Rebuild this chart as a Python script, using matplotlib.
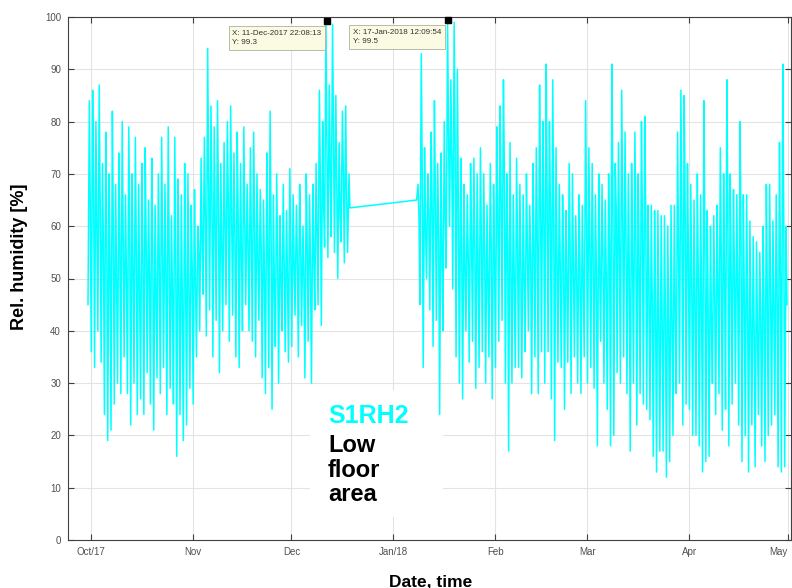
import numpy as np
import pandas as pd
import matplotlib
matplotlib.use("Agg")
import matplotlib.pyplot as plt
from matplotlib.patches import Rectangle

# ---------------- data ----------------
# segment 1: daily low / high / evening value, one per day from 30-Sep-2017
seg1_start = "2017-09-30"
seg1_hi = [84, 86, 80, 87, 72, 78, 70, 82, 68, 74,
           80, 66, 79, 70, 77, 68, 72, 75, 65, 73,
           64, 70, 77, 68, 79, 62, 77, 69, 66, 72,
           70, 64, 67, 60, 73, 77, 94, 83, 79, 84,
           72, 76, 80, 83, 74, 78, 72, 79, 68, 75,
           78, 70, 67, 65, 74, 82, 66, 70, 62, 68,
           63, 71, 66, 64, 68, 60, 70, 66, 68, 72,
           86, 80, 99.3, 87, 98.6, 85, 76, 82, 83, 70]
seg1_lo = [45, 36, 33, 40, 34, 24, 19, 21, 26, 30,
           28, 35, 28, 22, 30, 24, 27, 24, 32, 26,
           21, 31, 28, 33, 24, 29, 26, 16, 24, 19,
           22, 29, 26, 35, 40, 47, 39, 44, 35, 42,
           32, 40, 45, 38, 43, 35, 33, 40, 45, 40,
           38, 35, 42, 31, 28, 33, 25, 37, 30, 40,
           36, 34, 37, 43, 35, 41, 31, 38, 30, 44,
           45, 41, 56, 54, 58, 55, 50, 57, 53, 55]
seg1_mid = [62, 68, 60, 64, 55, 58, 52, 60, 50, 56,
            58, 50, 57, 52, 55, 48, 54, 56, 50, 55,
            48, 52, 56, 50, 54, 46, 52, 48, 45, 50,
            48, 52, 50, 55, 58, 62, 70, 66, 60, 64,
            56, 60, 64, 62, 58, 61, 55, 60, 56, 58,
            60, 54, 56, 50, 55, 60, 48, 54, 50, 52,
            50, 55, 52, 54, 56, 50, 56, 52, 55, 58,
            68, 64, 75, 70, 78, 68, 62, 70, 65, 63.5]

# segment 2: daily low / high / evening value, one per day from 08-Jan-2018
seg2_start = "2018-01-08"
seg2_hi = [68, 93, 75, 70, 78, 84, 72, 74, 80, 99.5,
           88, 99, 90, 73, 68, 66, 72, 73, 70, 75,
           70, 64, 72, 68, 79, 83, 88, 70, 76, 66,
           73, 68, 66, 70, 64, 72, 75, 87, 80, 91,
           80, 88, 75, 68, 66, 63, 72, 70, 62, 66,
           64, 84, 75, 72, 66, 70, 68, 65, 70, 91,
           72, 76, 86, 78, 70, 72, 78, 70, 80, 81,
           64, 64, 63, 63, 62, 62, 60, 64, 64, 78,
           86, 85, 72, 68, 65, 70, 66, 84, 63, 60,
           62, 64, 75, 70, 88, 70, 67, 66, 80, 66,
           66, 61, 58, 57, 55, 60, 68, 68, 61, 66,
           76, 91, 60]
seg2_lo = [65, 45, 33, 50, 44, 37, 42, 24, 40, 52,
           60, 48, 35, 30, 27, 40, 34, 38, 29, 33,
           36, 30, 35, 27, 33, 38, 42, 30, 17, 30,
           33, 33, 31, 36, 40, 28, 35, 28, 36, 30,
           36, 27, 19, 34, 33, 25, 34, 28, 35, 30,
           28, 35, 30, 33, 29, 18, 38, 30, 25, 18,
           20, 32, 30, 35, 28, 17, 30, 22, 28, 26,
           25, 23, 16, 13, 17, 17, 12, 15, 20, 28,
           30, 22, 26, 25, 20, 20, 18, 13, 15, 16,
           30, 24, 28, 21, 25, 18, 26, 30, 22, 15,
           20, 13, 22, 14, 24, 18, 15, 20, 22, 24,
           14, 13, 14]
seg2_mid = [62, 70, 60, 62, 64, 66, 58, 55, 62, 78,
            72, 76, 62, 56, 52, 54, 58, 56, 52, 57,
            55, 50, 56, 54, 62, 66, 70, 56, 52, 50,
            56, 52, 50, 56, 54, 56, 58, 64, 62, 66,
            64, 62, 54, 52, 55, 50, 56, 52, 50, 52,
            50, 62, 56, 55, 50, 52, 54, 50, 56, 66,
            64, 56, 62, 58, 52, 54, 58, 52, 60, 62,
            48, 45, 44, 40, 42, 42, 40, 42, 44, 55,
            62, 64, 54, 50, 46, 50, 46, 58, 44, 42,
            46, 48, 54, 50, 62, 52, 50, 48, 58, 46,
            45, 42, 40, 40, 42, 43, 46, 48, 44, 46,
            52, 62, 45]

tick_dates = ["2017-10-01", "2017-11-01", "2017-12-01", "2018-01-01",
              "2018-02-01", "2018-03-01", "2018-04-01", "2018-05-01"]
tick_labels = ["Oct/17", "Nov", "Dec", "Jan/18", "Feb", "Mar", "Apr", "May"]
y_ticks = list(range(0, 101, 10))

tip_times = ["2017-12-11 22:08:13", "2018-01-17 12:09:54"]
tip_values = [99.3, 99.5]
tip_labels = ["X: 11-Dec-2017 22:08:13\nY: 99.3",
              "X: 17-Jan-2018 12:09:54\nY: 99.5"]

x_range = ["2017-09-24", "2018-05-02"]


def build(start, lo, hi, mid):
    days = pd.date_range(start, periods=len(hi), freq="D")
    t, v = [], []
    for d, l, h, m in zip(days, lo, hi, mid):
        t += [d + pd.Timedelta(hours=2), d + pd.Timedelta(hours=12),
              d + pd.Timedelta(hours=19)]
        v += [l, h, m]
    return t, v


t1, v1 = build(seg1_start, seg1_lo, seg1_hi, seg1_mid)
t2, v2 = build(seg2_start, seg2_lo, seg2_hi, seg2_mid)
times = pd.to_datetime(t1 + t2)
values = np.array(v1 + v2, dtype=float)

# ---------------- figure ----------------
plt.rcParams['font.family'] = ['Liberation Sans', 'DejaVu Sans']
fig = plt.figure(figsize=(7.92, 5.88), dpi=100)
ax = fig.add_axes([68 / 792, 1 - 540 / 588, 723 / 792, 523 / 588])

ax.plot(times, values, color=(0, 1, 1), lw=1.1, zorder=3)

ax.set_xlim(pd.Timestamp(x_range[0]), pd.Timestamp(x_range[1]))
ax.set_ylim(0, 100)
ax.set_yticks(y_ticks)
ax.set_xticks(pd.to_datetime(tick_dates))
ax.set_xticklabels(tick_labels)
ax.get_xticklabels()[-1].set_horizontalalignment('right')

ax.set_axisbelow(True)
ax.grid(True, color='#e3e3e3', lw=0.8)
ax.tick_params(direction='in', length=4, width=0.8, top=True, right=True,
               labelsize=7, labelcolor='#505050', color='#404040', pad=5)
for s in ax.spines.values():
    s.set_color('#404040')
    s.set_linewidth(0.8)

ax.set_ylabel("Rel. humidity [%]", fontsize=13, fontweight='bold')
ax.yaxis.set_label_coords(-0.055, 0.541)
ax.set_xlabel("Date, time", fontsize=12.5, fontweight='bold')
ax.xaxis.set_label_coords(0.502, -0.066)

# white box behind the annotation
ax.add_patch(Rectangle((0.335, 0.044), 0.184, 0.243, transform=ax.transAxes,
                       facecolor='white', edgecolor='none', zorder=1))
ax.text(0.3596, 0.2237, "S1RH2", transform=ax.transAxes, color=(0, 1, 1),
        fontsize=18, fontweight='bold', va='baseline', ha='left', zorder=4)
for lbl, yb in zip(["Low", "floor", "area"], [0.168, 0.1205, 0.0746]):
    ax.text(0.3596, yb, lbl, transform=ax.transAxes, color='black',
            fontsize=17, fontweight='bold', va='baseline', ha='left', zorder=4)

# data tips
tt = pd.to_datetime(tip_times)
ax.plot(tt, tip_values, 's', color='black', ms=4.5, zorder=6, clip_on=False)
for x, y, lbl in zip(tt, tip_values, tip_labels):
    ax.annotate(lbl, xy=(x, y), xytext=(-95, -9), textcoords='offset pixels',
                ha='left', va='top', fontsize=5.8, color='#303030', zorder=7,
                linespacing=1.5,
                bbox=dict(boxstyle='square,pad=0.45', facecolor='#fbfbe3',
                          edgecolor='#b0b0a0', lw=0.6))

fig.savefig("out.png", dpi=100)
